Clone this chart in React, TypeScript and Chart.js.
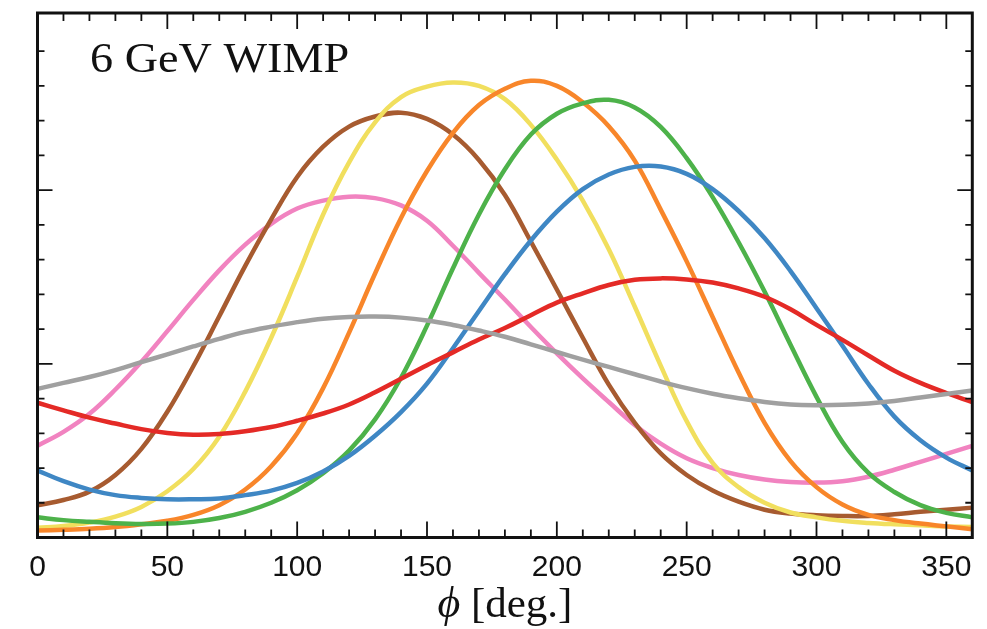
import React, { useEffect, useRef } from "react";
import { Chart, registerables } from "chart.js";

Chart.register(...registerables);

// phase angle phi in degrees
const PHI = [0, 10, 20, 30, 40, 50, 60, 70, 80, 90, 100, 110, 120, 130, 140, 150, 160, 170, 180,
  190, 200, 210, 220, 230, 240, 250, 260, 270, 280, 290, 300, 310, 320, 330, 340, 350, 360];

// curve values (arbitrary units, one unit = one minor y tick)
const GRAY = [4.28, 4.45, 4.62, 4.82, 5.05, 5.27, 5.5, 5.72, 5.92, 6.07, 6.2, 6.3, 6.35, 6.36, 6.33, 6.25, 6.12, 5.96, 5.78,
  5.56, 5.34, 5.12, 4.91, 4.7, 4.49, 4.3, 4.14, 4.01, 3.9, 3.83, 3.81, 3.82, 3.86, 3.93, 4.03, 4.13, 4.23];
const RED = [3.88, 3.66, 3.45, 3.28, 3.12, 3.01, 2.96, 2.98, 3.06, 3.18, 3.36, 3.57, 3.83, 4.18, 4.57, 4.96, 5.33, 5.7, 6.03,
  6.4, 6.76, 7.03, 7.27, 7.42, 7.46, 7.43, 7.34, 7.17, 6.93, 6.57, 6.12, 5.69, 5.24, 4.8, 4.45, 4.16, 3.9];
const BLUE = [1.93, 1.62, 1.38, 1.22, 1.14, 1.1, 1.1, 1.12, 1.22, 1.35, 1.57, 1.9, 2.35, 2.93, 3.61, 4.43, 5.45, 6.52, 7.58,
  8.55, 9.38, 10.03, 10.45, 10.67, 10.68, 10.47, 10.03, 9.4, 8.62, 7.67, 6.6, 5.52, 4.42, 3.48, 2.8, 2.3, 1.93];
const GREEN = [0.58, 0.5, 0.45, 0.41, 0.39, 0.4, 0.45, 0.56, 0.74, 1.0, 1.36, 1.85, 2.5, 3.4, 4.6, 6.1, 7.75, 9.3, 10.6,
  11.6, 12.2, 12.5, 12.6, 12.38, 11.82, 10.92, 9.8, 8.5, 7.08, 5.55, 4.05, 2.75, 1.86, 1.31, 0.93, 0.71, 0.58];
const ORANGE = [0.2, 0.22, 0.25, 0.3, 0.38, 0.48, 0.65, 0.93, 1.38, 2.05, 3.0, 4.3, 5.9, 7.6, 9.2, 10.55, 11.65, 12.45, 12.92,
  13.15, 13.0, 12.53, 11.84, 10.85, 9.44, 7.95, 6.35, 4.75, 3.3, 2.2, 1.45, 0.95, 0.65, 0.5, 0.4, 0.32, 0.24];
const YELLOW = [0.28, 0.33, 0.43, 0.6, 0.88, 1.33, 1.97, 2.9, 4.2, 5.75, 7.5, 9.3, 10.8, 11.95, 12.68, 12.98, 13.1, 13.0, 12.62,
  11.88, 10.88, 9.7, 8.3, 6.65, 4.95, 3.35, 2.15, 1.45, 1.0, 0.72, 0.58, 0.48, 0.42, 0.38, 0.35, 0.32, 0.3];
const BROWN = [0.93, 1.08, 1.32, 1.8, 2.55, 3.62, 4.93, 6.37, 7.82, 9.16, 10.38, 11.25, 11.83, 12.12, 12.23, 12.05, 11.6, 10.87, 9.86,
  8.52, 7.14, 5.75, 4.4, 3.3, 2.42, 1.8, 1.35, 1.03, 0.8, 0.69, 0.64, 0.62, 0.62, 0.67, 0.74, 0.8, 0.86];
const PINK = [2.64, 3.04, 3.56, 4.26, 5.06, 5.94, 6.84, 7.69, 8.43, 9.03, 9.47, 9.7, 9.81, 9.77, 9.56, 9.12, 8.4, 7.62, 6.85,
  6.06, 5.3, 4.58, 3.9, 3.24, 2.7, 2.28, 2.0, 1.8, 1.67, 1.6, 1.58, 1.62, 1.75, 1.95, 2.18, 2.41, 2.64];

const SERIES_NAMES = ["gray", "red", "blue", "green", "orange", "yellow", "brown", "pink"];
const SERIES_COLORS = ["#a0a0a0", "#e42a26", "#3f87c4", "#4db24a", "#f8862a", "#f1df5e", "#a75b30", "#f183c0"];

const X_TICK_LABELS = [0, 50, 100, 150, 200, 250, 300, 350];
const X_MINOR_STEP = 10;
const Y_MAX = 15.1;
const Y_TICKS = [1, 2, 3, 4, 5, 6, 7, 8, 9, 10, 11, 12, 13, 14];
const Y_MAJOR = [5, 10];

const PANEL_TITLE = "6 GeV WIMP";
const X_TITLE_SYMBOL = "ϕ";
const X_TITLE_UNIT = " [deg.]";

const framePlugin = {
  id: "frame",
  afterDraw(chart: any) {
    const { ctx, chartArea: a, scales } = chart;
    const x = scales.x;
    const y = scales.y;
    ctx.save();
    ctx.strokeStyle = "#111";
    ctx.lineWidth = 1.8;
    ctx.beginPath();
    for (let v = X_MINOR_STEP; v < 360; v += X_MINOR_STEP) {
      const px = x.getPixelForValue(v);
      const len = v % 50 === 0 ? 16 : 8;
      ctx.moveTo(px, a.bottom);
      ctx.lineTo(px, a.bottom - len);
      ctx.moveTo(px, a.top);
      ctx.lineTo(px, a.top + len);
    }
    for (const v of Y_TICKS) {
      const py = y.getPixelForValue(v);
      const len = Y_MAJOR.includes(v) ? 15 : 7;
      ctx.moveTo(a.left, py);
      ctx.lineTo(a.left + len, py);
      ctx.moveTo(a.right, py);
      ctx.lineTo(a.right - len, py);
    }
    ctx.stroke();

    ctx.lineWidth = 3;
    ctx.strokeRect(a.left, a.top, a.right - a.left, a.bottom - a.top);

    // panel title
    ctx.fillStyle = "#111";
    ctx.font = '42px "Liberation Serif", "Times New Roman", serif';
    ctx.textBaseline = "alphabetic";
    ctx.textAlign = "left";
    ctx.save();
    ctx.translate(90, 72);
    ctx.scale(1.1, 1);
    ctx.fillText(PANEL_TITLE, 0, 0);
    ctx.restore();

    // x-axis title
    const symFont = 'italic 44px "Liberation Serif", "DejaVu Serif", serif';
    const unitFont = '43px "Liberation Serif", "Times New Roman", serif';
    ctx.font = symFont;
    const w1 = ctx.measureText(X_TITLE_SYMBOL).width;
    ctx.font = unitFont;
    const w2 = ctx.measureText(X_TITLE_UNIT).width;
    const cx = (a.left + a.right) / 2;
    const start = cx - (w1 + w2) / 2;
    ctx.font = symFont;
    ctx.fillText(X_TITLE_SYMBOL, start, 617);
    ctx.font = unitFont;
    ctx.fillText(X_TITLE_UNIT, start + w1, 617);
    ctx.restore();
  },
};

export default function App() {
  const ref = useRef<HTMLCanvasElement>(null);

  useEffect(() => {
    if (!ref.current) return;
    const seriesValues = [GRAY, RED, BLUE, GREEN, ORANGE, YELLOW, BROWN, PINK];
    const chart = new Chart(ref.current, {
      type: "line",
      data: {
        datasets: seriesValues.map((vals, i) => ({
          label: SERIES_NAMES[i],
          data: PHI.map((p, j) => ({ x: p, y: vals[j] })),
          borderColor: SERIES_COLORS[i],
          backgroundColor: SERIES_COLORS[i],
          borderWidth: 4.5,
          pointRadius: 0,
          fill: false,
          tension: 0.4,
        })),
      },
      options: {
        responsive: false,
        animation: false,
        devicePixelRatio: 1,
        layout: { padding: { top: 13, right: 14.7, left: 0, bottom: 0 } },
        plugins: {
          legend: { display: false },
          tooltip: { enabled: false },
        },
        scales: {
          x: {
            type: "linear",
            min: 0,
            max: 360,
            afterBuildTicks: (s: any) => {
              s.ticks = X_TICK_LABELS.map((v) => ({ value: v }));
            },
            ticks: {
              autoSkip: false,
              maxRotation: 0,
              minRotation: 0,
              padding: 12,
              color: "#111",
              font: { family: '"Liberation Sans", Arial, Helvetica, sans-serif', size: 30 },
            },
            grid: { display: false, drawTicks: false },
            border: { display: false },
            afterFit: (s: any) => {
              s.height = 91.5;
              s.paddingLeft = 0;
              s.paddingRight = 0;
            },
          },
          y: {
            type: "linear",
            min: 0,
            max: Y_MAX,
            ticks: { display: false },
            grid: { display: false, drawTicks: false },
            border: { display: false },
            afterFit: (s: any) => {
              s.width = 37.5;
              s.paddingTop = 0;
              s.paddingBottom = 0;
            },
          },
        },
      },
      plugins: [framePlugin],
    });
    return () => chart.destroy();
  }, []);

  return (
    <div style={{ position: "fixed", left: 0, top: 0, width: 987, height: 629, background: "#fff" }}>
      <canvas ref={ref} width={987} height={629} style={{ display: "block" }} />
    </div>
  );
}
